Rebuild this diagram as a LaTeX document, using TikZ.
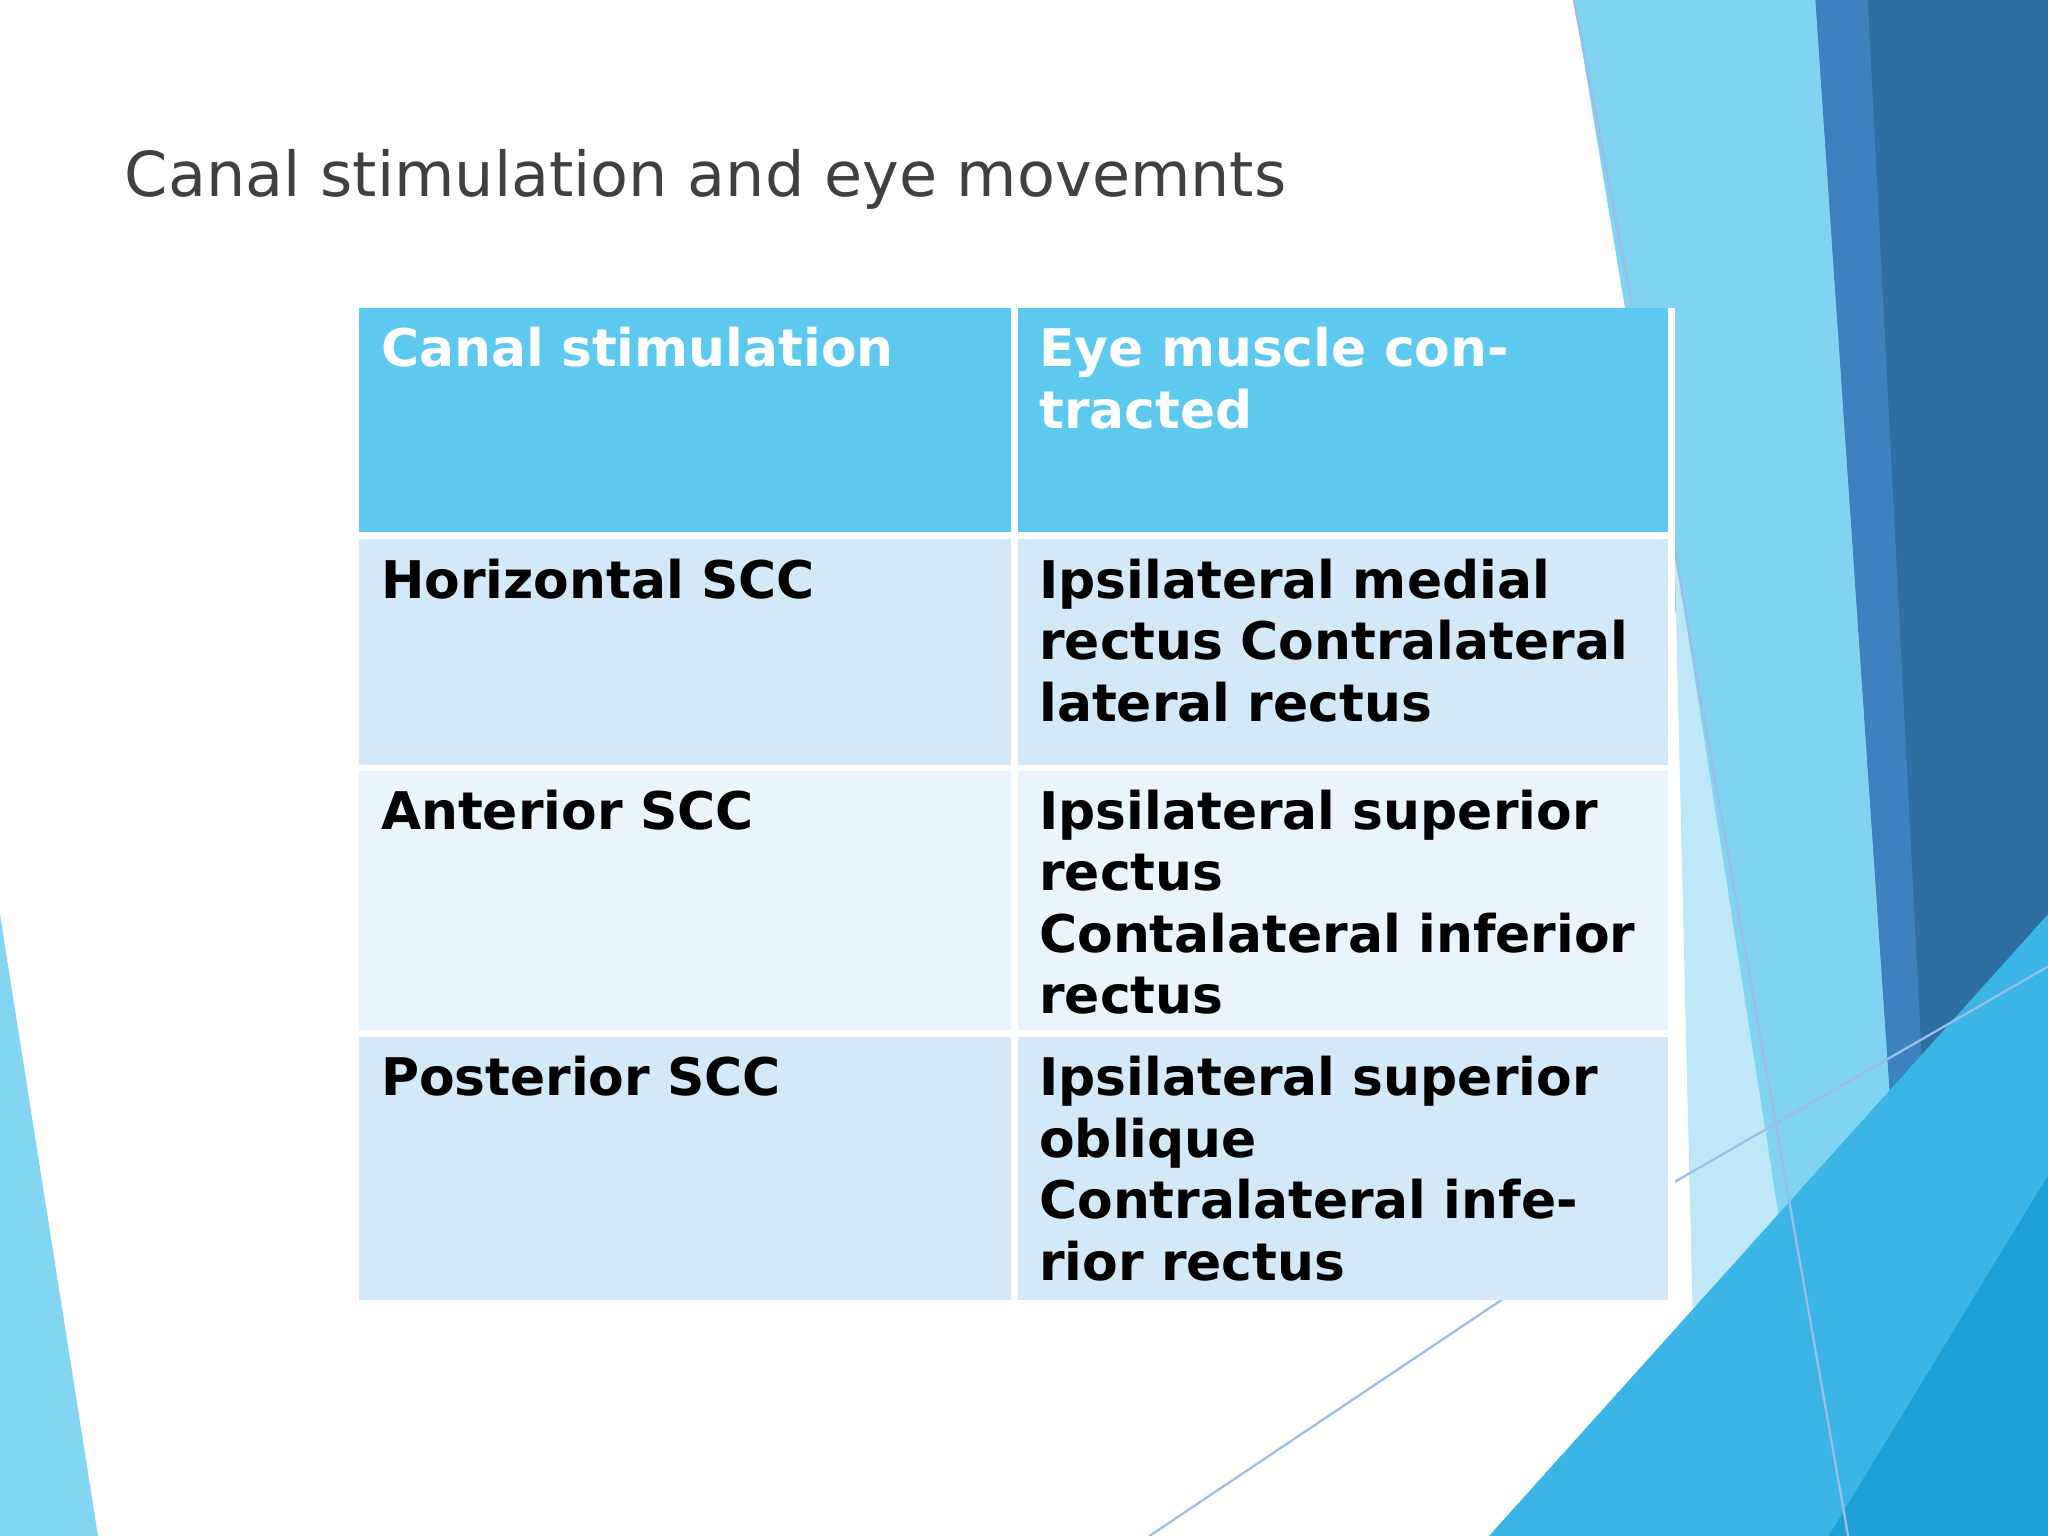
\documentclass[tikz,border=0pt]{standalone}
\usepackage{fontspec}
\setmainfont{DejaVu Sans}
\begin{document}
\begin{tikzpicture}[x=0.01cm,y=-0.01cm,
  cell/.style={anchor=north west,inner sep=0pt,align=left,text width=4.6cm,
    font=\fontsize{11.3pt}{13.4pt}\selectfont\bfseries},
  ln/.style={draw=cyan!60!blue!40,line width=0.5pt}]
\definecolor{hdr}{HTML}{5DC9EF}\definecolor{ra}{HTML}{D3E9F7}\definecolor{rb}{HTML}{EAF5FB}
\definecolor{c1}{RGB}{128,212,241}\definecolor{c2}{RGB}{46,110,160}
\definecolor{c3}{RGB}{60,130,190}\definecolor{c4}{RGB}{190,232,248}
\definecolor{c5}{RGB}{58,181,229}\definecolor{c6}{RGB}{30,160,215}
\definecolor{c7}{RGB}{130,214,242}\definecolor{tt}{RGB}{64,64,64}
\useasboundingbox (0,0) rectangle (1568,1176);
% background
\fill[c1] (1205,0)--(1390,0)--(1470,1176)--(1400,1176)--cycle;
\fill[c2] (1390,0)--(1568,0)--(1568,1176)--(1470,1176)--cycle;
\fill[c3] (1390,0)--(1430,0)--(1490,1176)--(1470,1176)--cycle;
\fill[c4] (1282,420)--(1400,1176)--(1300,1176)--cycle;
\fill[c5] (1140,1176)--(1568,700)--(1568,1176)--cycle;
\fill[c6] (1400,1176)--(1568,900)--(1568,1176)--cycle;
\fill[c7] (0,700)--(75,1176)--(0,1176)--cycle;
\draw[ln] (1205,0)--(1250,235);
\draw[ln] (1282,420)--(1415,1176);
\draw[ln] (1282,905)--(1568,740);
\draw[ln] (880,1176)--(1150,995);
% title
\node[anchor=west,inner sep=0pt,text=tt,font=\fontsize{13.5pt}{16pt}\selectfont] (title) at (95,137) {Canal stimulation and eye movemnts};
% table
\fill[hdr] (275,236) rectangle (1280,410);
\fill[ra] (275,410) rectangle (1280,588);
\fill[rb] (275,588) rectangle (1280,791);
\fill[ra] (275,791) rectangle (1280,995);
\draw[white,line width=1.5pt] (275,410)--(1280,410) (275,588)--(1280,588) (275,791)--(1280,791) (777,236)--(777,995) (1280,236)--(1280,995);
\node[cell,text=white] (h1) at (291,250) {Canal stimulation};
\node[cell,text=white] (h2) at (795,250) {Eye muscle contracted};
\node[cell] (a1) at (291,427) {Horizontal SCC};
\node[cell] (a2) at (795,427) {Ipsilateral medial rectus Contralateral lateral rectus};
\node[cell] (b1) at (291,604) {Anterior SCC};
\node[cell] (b2) at (795,604) {Ipsilateral superior rectus\\Contalateral inferior rectus};
\node[cell] (c1n) at (291,808) {Posterior SCC};
\node[cell] (c2n) at (795,808) {Ipsilateral superior oblique\\Contralateral inferior rectus};
\end{tikzpicture}
\end{document}
